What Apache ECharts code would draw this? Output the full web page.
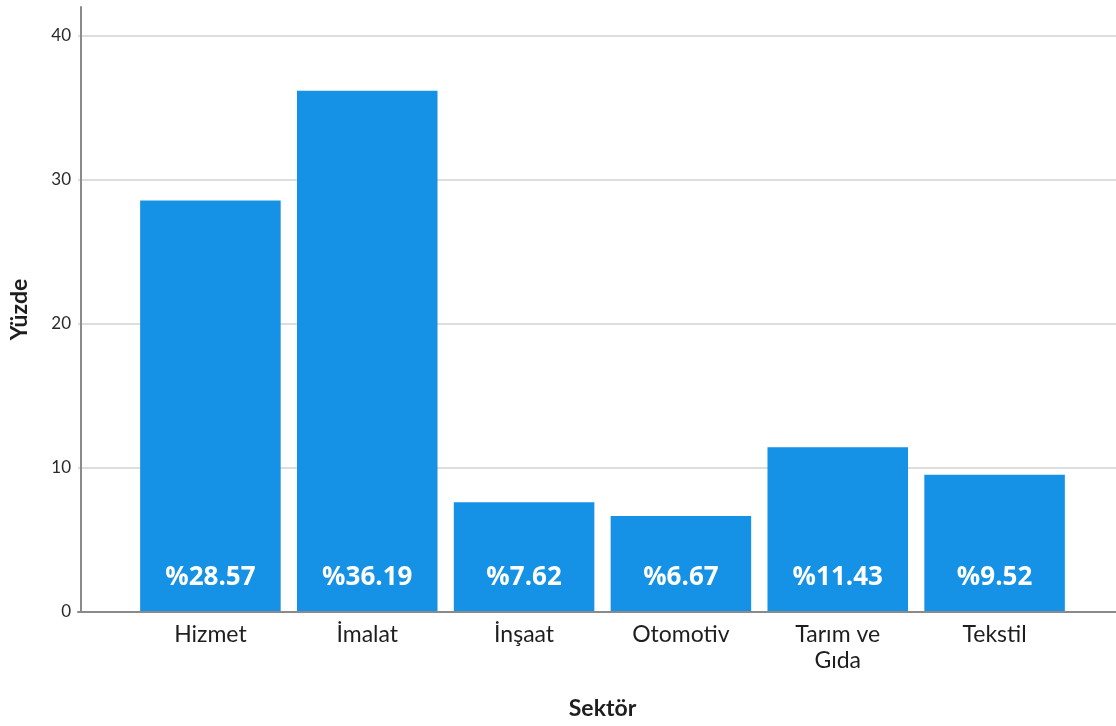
<!DOCTYPE html>
<html>
<head>
<meta charset="utf-8">
<script src="https://cdn.jsdelivr.net/npm/echarts@6/dist/echarts.min.js"></script>
<style>
  html, body { margin: 0; padding: 0; background: #ffffff; }
  #chart { width: 1116px; height: 726px; }
</style>
</head>
<body>
<div id="chart"></div>
<script>
// Sector shares (percent)
const categories = ['Hizmet', 'İmalat', 'İnşaat', 'Otomotiv', 'Tarım ve\nGıda', 'Tekstil'];
const percents = [28.57, 36.19, 7.62, 6.67, 11.43, 9.52];
const yTicks = [0, 10, 20, 30, 40];

const yMin = yTicks[0];
const yMax = yTicks[yTicks.length - 1];
const yStep = yTicks[1] - yTicks[0];

const chart = echarts.init(document.getElementById('chart'), null, { renderer: 'canvas' });

chart.setOption({
  animation: false,
  backgroundColor: '#ffffff',
  grid: [
    // frame: gridlines, tick labels and the baseline across the full width
    { left: 78, right: 0, top: 36, bottom: 114 },
    // bars, inset from the frame on both sides
    { left: 129, right: 43, top: 7, bottom: 114 }
  ],
  xAxis: [
    {
      gridIndex: 0,
      type: 'category',
      data: [''],
      axisLine: { show: true, lineStyle: { color: '#8a8a8a', width: 2 } },
      axisTick: { show: false },
      axisLabel: { show: false },
      z: 5
    },
    {
      gridIndex: 1,
      type: 'category',
      data: categories,
      axisLine: { show: false },
      axisTick: { show: false },
      axisLabel: {
        color: '#1e1e1e',
        fontFamily: 'Lato',
        fontSize: 23,
        lineHeight: 26,
        margin: 10,
        interval: 0
      },
      name: 'Sektör',
      nameLocation: 'middle',
      nameGap: 85,
      nameTextStyle: {
        color: '#1e1e1e',
        fontFamily: 'Lato',
        fontWeight: 'bold',
        fontSize: 23
      }
    }
  ],
  yAxis: [
    {
      gridIndex: 0,
      type: 'value',
      min: yMin,
      max: yMax,
      interval: yStep,
      axisLine: { show: false },
      axisTick: { show: false },
      axisLabel: {
        color: '#2a2a2a',
        fontFamily: 'Lato',
        fontSize: 17,
        margin: 7
      },
      splitLine: { show: true, lineStyle: { color: '#d2d2d2', width: 1.5 } }
    },
    {
      gridIndex: 1,
      type: 'value',
      min: 0,
      max: 42,
      offset: 51,
      axisLine: { show: true, lineStyle: { color: '#8a8a8a', width: 2 } },
      axisTick: { show: false },
      axisLabel: { show: false },
      splitLine: { show: false },
      name: 'Yüzde',
      nameLocation: 'middle',
      nameGap: 50,
      nameRotate: 90,
      nameTextStyle: {
        color: '#1e1e1e',
        fontFamily: 'Lato',
        fontWeight: 'bold',
        fontSize: 23
      }
    }
  ],
  series: [
    {
      type: 'bar',
      xAxisIndex: 1,
      yAxisIndex: 1,
      data: percents,
      barCategoryGap: '10.4%',
      itemStyle: { color: '#1591e6' },
      label: {
        show: true,
        position: 'insideBottom',
        distance: 21,
        color: '#ffffff',
        fontFamily: 'Open Sans',
        fontWeight: 'bold',
        fontSize: 26,
        formatter: p => '%' + p.value.toFixed(2)
      },
      z: 3
    }
  ]
});
</script>
</body>
</html>
